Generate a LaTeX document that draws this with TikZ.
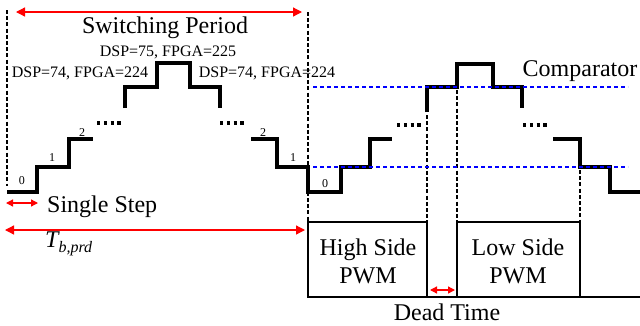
\documentclass[tikz,border=0pt]{standalone}
\usepackage{fontspec}
\setmainfont{Liberation Serif}
\newfontfamily\tmsfont{Liberation Serif}
\usetikzlibrary{arrows.meta}
\begin{document}
\begin{tikzpicture}[x=1pt,y=-1pt,
 wave/.style={line width=3.2pt, line join=miter},
 guide/.style={line width=2.2pt, dash pattern=on 4pt off 2.2pt},
 cmp/.style={blue, line width=1.8pt, dash pattern=on 4pt off 3pt},
 dots/.style={line width=3.2pt, dash pattern=on 3.2pt off 3.6pt},
 dimbig/.style={red, line width=1.3pt, {Triangle[length=9pt,width=9pt]}-{Triangle[length=9pt,width=9pt]}},
 dimsmall/.style={red, line width=1.3pt, {Triangle[length=7pt,width=7pt]}-{Triangle[length=7pt,width=7pt]}},
 big/.style={font=\tmsfont\fontsize{24}{26}\selectfont, inner sep=0pt, anchor=base},
 mid/.style={font=\tmsfont\fontsize{16}{18}\selectfont, inner sep=0pt, anchor=base},
 small/.style={font=\tmsfont\fontsize{12}{14}\selectfont, inner sep=0pt, anchor=base},
 pwm/.style={line width=1.8pt}]
\useasboundingbox (0,0) rectangle (640,325);

% coordinates for dimension arrows
\coordinate (swL) at (16,12);
\coordinate (swR) at (302,12);
\coordinate (ssL) at (6,203);
\coordinate (ssR) at (38,203);
\coordinate (tbL) at (5,230);
\coordinate (tbR) at (305,230);
\coordinate (dtL) at (430,290);
\coordinate (dtR) at (455,290);

% vertical guides
\draw[guide] (7,10) -- (7,186);
\draw[guide] (308,12) -- (308,222);
\draw[guide] (427,115) -- (427,222);
\draw[guide] (457,90) -- (457,222);
\draw[guide] (580,170) -- (580,222);

% left waveform
\draw[wave] (7,192) -- (37,192) -- (37,167) -- (69,167) -- (69,139) -- (93,139);
\draw[dots] (97,123) -- (122,123);
\draw[wave] (125,108) -- (125,87) -- (157,87) -- (157,63) -- (190,63) -- (190,87) -- (220,87) -- (220,108);
\draw[dots] (220,123) -- (245,123);
\draw[wave] (251,139) -- (277,139) -- (277,167) -- (308,167) -- (308,192) -- (341,192) -- (341,167) -- (370,167) -- (370,139) -- (392,139);
% right waveform
\draw[dots] (397,125) -- (422,125);
\draw[wave] (427,112) -- (427,87) -- (457,87) -- (457,64) -- (493,64) -- (493,87) -- (522,87) -- (522,108);
\draw[dots] (523,125) -- (548,125);
\draw[wave] (553,139) -- (580,139) -- (580,167) -- (610,167) -- (610,192) -- (640,192);

% comparator levels
\draw[cmp] (313,87) -- (628,87);
\draw[cmp] (313,167) -- (628,167);

% PWM
\draw[pwm] (308,297) rectangle (427,222);
\draw[pwm] (457,297) rectangle (580,222);
\draw[pwm] (427,297) -- (457,297);
\draw[pwm] (580,297) -- (640,297);

% arrows
\draw[dimbig] (swL) -- (swR);
\draw[dimsmall] (ssL) -- (ssR);
\draw[dimbig] (tbL) -- (tbR);
\draw[dimsmall] (dtL) -- (dtR);

% texts
\node[big] (sp) at (165,33) {Switching Period};
\node[mid] (d75) at (168,56) {DSP=75, FPGA=225};
\node[mid] (d74l) at (80,77) {DSP=74, FPGA=224};
\node[mid] (d74r) at (267,77) {DSP=74, FPGA=224};
\node[big] (cmpt) at (580,76) {Comparator};
\node[big, anchor=base west] (ss) at (47,212) {Single Step};
\node[big, anchor=base west] (tb) at (45,247) {\itshape T\raisebox{-5pt}{\fontsize{16}{16}\selectfont b,prd}};
\node[big] (hs1) at (368,255) {High Side};
\node[big] (hs2) at (368,283) {PWM};
\node[big] (ls1) at (518,255) {Low Side};
\node[big] (ls2) at (518,283) {PWM};
\node[big] (dt) at (447,320) {Dead Time};

\node[small] (n0) at (22,184) {0};
\node[small] (n1) at (52,161) {1};
\node[small] (n2) at (82,136) {2};
\node[small] (m2) at (263,136) {2};
\node[small] (m1) at (293,161) {1};
\node[small] (k0) at (325,187) {0};
\end{tikzpicture}
\end{document}
